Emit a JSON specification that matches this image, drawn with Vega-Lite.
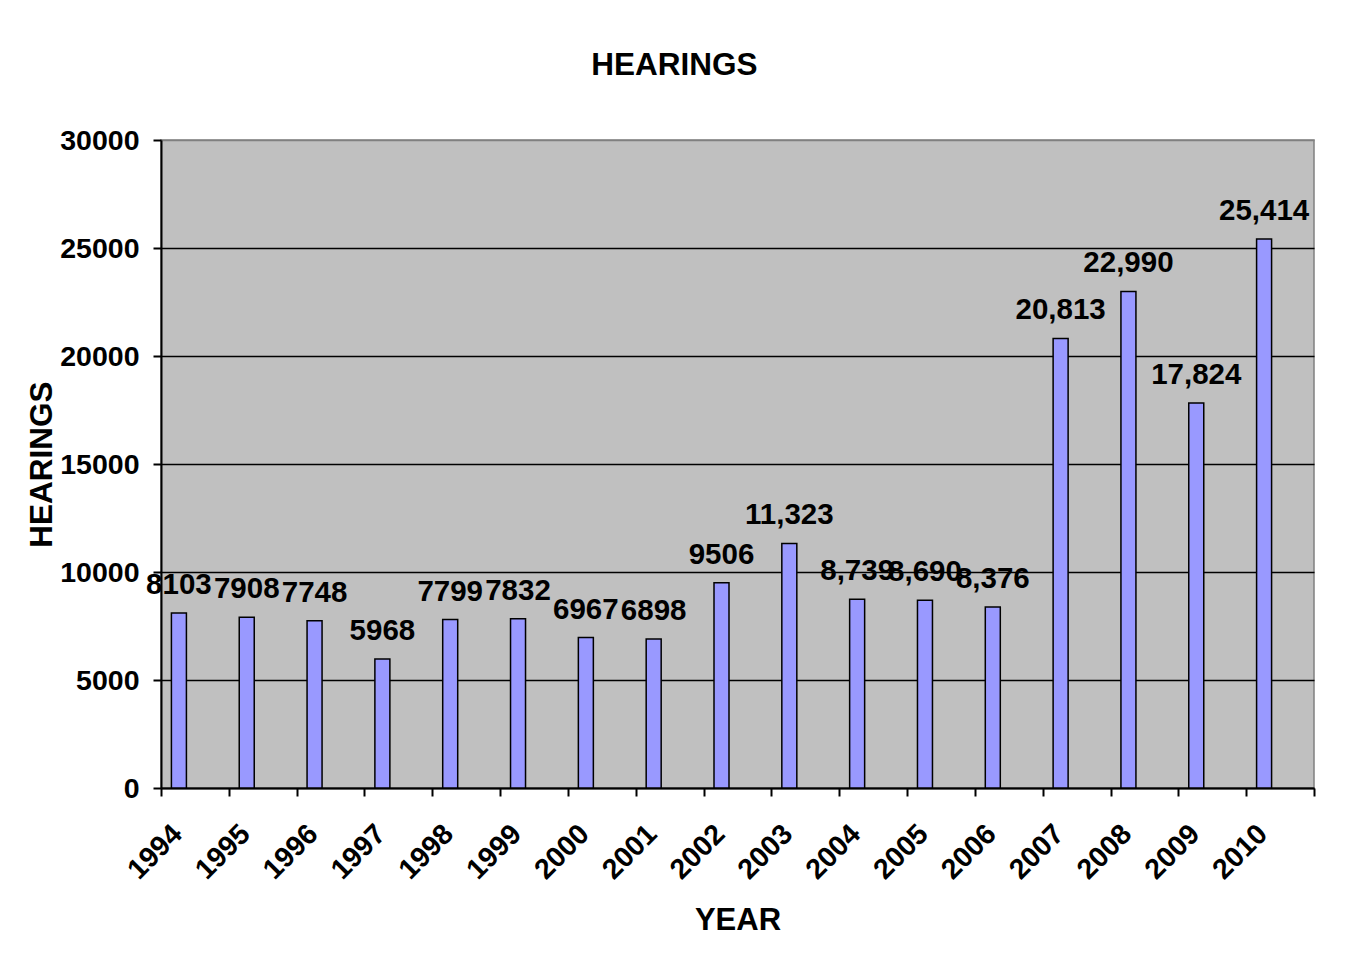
{
  "$schema": "https://vega.github.io/schema/vega-lite/v6.json",
  "width": 1153,
  "height": 648,
  "autosize": {"type": "none"},
  "padding": {"left": 161, "top": 140, "right": 34, "bottom": 176},
  "background": "white",
  "title": {
    "text": "HEARINGS",
    "font": "Liberation Sans",
    "fontSize": 31.5,
    "fontWeight": "bold",
    "color": "black",
    "anchor": "middle",
    "dx": -63,
    "baseline": "alphabetic",
    "offset": 20
  },
  "config": {
    "view": {"fill": "#C0C0C0", "stroke": "#808080", "strokeWidth": 1.5},
    "font": "Liberation Sans"
  },
  "data": {
    "values": [
      {"year": "1994", "hearings": 8103, "label": "8103"},
      {"year": "1995", "hearings": 7908, "label": "7908"},
      {"year": "1996", "hearings": 7748, "label": "7748"},
      {"year": "1997", "hearings": 5968, "label": "5968"},
      {"year": "1998", "hearings": 7799, "label": "7799"},
      {"year": "1999", "hearings": 7832, "label": "7832"},
      {"year": "2000", "hearings": 6967, "label": "6967"},
      {"year": "2001", "hearings": 6898, "label": "6898"},
      {"year": "2002", "hearings": 9506, "label": "9506"},
      {"year": "2003", "hearings": 11323, "label": "11,323"},
      {"year": "2004", "hearings": 8739, "label": "8,739"},
      {"year": "2005", "hearings": 8690, "label": "8,690"},
      {"year": "2006", "hearings": 8376, "label": "8,376"},
      {"year": "2007", "hearings": 20813, "label": "20,813"},
      {"year": "2008", "hearings": 22990, "label": "22,990"},
      {"year": "2009", "hearings": 17824, "label": "17,824"},
      {"year": "2010", "hearings": 25414, "label": "25,414"}
    ]
  },
  "encoding": {
    "x": {
      "field": "year",
      "type": "ordinal",
      "scale": {"paddingInner": 0, "paddingOuter": 0},
      "axis": {
        "title": "YEAR",
        "titleFont": "Liberation Sans",
        "titleFontSize": 31,
        "titleFontWeight": "bold",
        "titleColor": "black",
        "titleY": 132,
        "titleBaseline": "middle",
        "labelFont": "Liberation Sans",
        "labelFontSize": 28.5,
        "labelFontWeight": "bold",
        "labelColor": "black",
        "labelAngle": -45,
        "labelAlign": "right",
        "labelBaseline": "middle",
        "labelOffset": -18,
        "labelPadding": 33,
        "tickBand": "extent",
        "tickColor": "black",
        "tickSize": 8,
        "tickWidth": 2,
        "domainColor": "black",
        "domainWidth": 2,
        "grid": false
      }
    },
    "y": {
      "field": "hearings",
      "type": "quantitative",
      "scale": {"domain": [0, 30000], "nice": false},
      "axis": {
        "title": "HEARINGS",
        "titleFont": "Liberation Sans",
        "titleFontSize": 31.5,
        "titleFontWeight": "bold",
        "titleColor": "black",
        "titleX": -119,
        "titleBaseline": "middle",
        "values": [0, 5000, 10000, 15000, 20000, 25000, 30000],
        "format": "d",
        "labelFont": "Liberation Sans",
        "labelFontSize": 28.5,
        "labelFontWeight": "bold",
        "labelColor": "black",
        "labelPadding": 14,
        "tickColor": "black",
        "tickSize": 8,
        "tickWidth": 2,
        "domainColor": "black",
        "domainWidth": 2,
        "grid": true,
        "gridColor": {"condition": {"test": "datum.value >= 30000", "value": "#808080"}, "value": "black"},
        "gridWidth": 1.5
      }
    }
  },
  "layer": [
    {
      "mark": {"type": "bar", "width": 15, "xOffset": -16, "color": "#9999FF", "stroke": "black", "strokeWidth": 1.5}
    },
    {
      "mark": {"type": "text", "xOffset": -16, "dy": -19, "baseline": "alphabetic", "align": "center", "font": "Liberation Sans", "fontSize": 29.5, "fontWeight": "bold", "color": "black"},
      "encoding": {"text": {"field": "label"}}
    }
  ]
}
